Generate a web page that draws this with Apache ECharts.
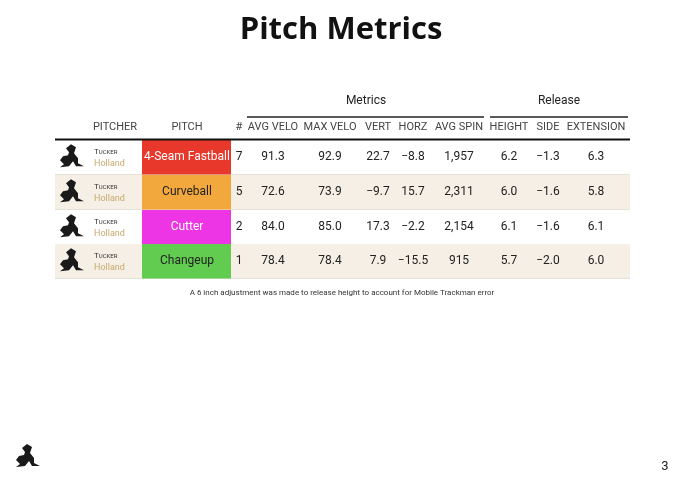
<!DOCTYPE html>
<html>
<head>
<meta charset="utf-8">
<script src="https://cdn.jsdelivr.net/npm/echarts@6/dist/echarts.min.js"></script>
<style>html,body{margin:0;background:#fff}#main{width:680px;height:480px}</style>
</head>
<body>
<div id="main"></div>
<script>
var headers = ['PITCHER', 'PITCH', '#', 'AVG VELO', 'MAX VELO', 'VERT', 'HORZ', 'AVG SPIN', 'HEIGHT', 'SIDE', 'EXTENSION'];
var pitches = ['4-Seam Fastball', 'Curveball', 'Cutter', 'Changeup'];
var counts = [7, 5, 2, 1];
var avgVelo = ['91.3', '72.6', '84.0', '78.4'];
var maxVelo = ['92.9', '73.9', '85.0', '78.4'];
var vert = ['22.7', '\u22129.7', '17.3', '7.9'];
var horz = ['\u22128.8', '15.7', '\u22122.2', '\u221215.5'];
var avgSpin = ['1,957', '2,311', '2,154', '915'];
var height = ['6.2', '6.0', '6.1', '5.7'];
var side = ['\u22121.3', '\u22121.6', '\u22121.6', '\u22122.0'];
var extension = ['6.3', '5.8', '6.1', '6.0'];
var pitchColors = ['#e8382c', '#f2a83c', '#ee35e6', '#62cc50'];
var pitchText = ['#fff', '#222', '#fff', '#222'];

var colX = [115, 187, 239, 273, 330, 378, 413, 459, 509, 548, 596];
var rowTop = [140, 175, 210, 244];
var rowH = 34.5;
var els = [];
var font = 'Roboto, sans-serif';

els.push({type: 'text', x: 341, y: 30, style: {text: 'Pitch Metrics', font: 'bold 31px "Open Sans", sans-serif', fill: '#111', align: 'center', verticalAlign: 'middle'}});
els.push({type: 'text', x: 366, y: 101, style: {text: 'Metrics', font: '12px ' + font, fill: '#222', align: 'center', verticalAlign: 'middle'}});
els.push({type: 'text', x: 559, y: 101, style: {text: 'Release', font: '12px ' + font, fill: '#222', align: 'center', verticalAlign: 'middle'}});
els.push({type: 'line', shape: {x1: 247, y1: 117, x2: 484, y2: 117}, style: {stroke: '#222', lineWidth: 1.5}});
els.push({type: 'line', shape: {x1: 490, y1: 117, x2: 628, y2: 117}, style: {stroke: '#222', lineWidth: 1.5}});
headers.forEach(function (h, i) {
  els.push({type: 'text', x: colX[i], y: 127, style: {text: h, font: '11px ' + font, fill: '#444', align: 'center', verticalAlign: 'middle'}});
});

function logo(x, y) {
  var pts = [[6, -9], [11, -13], [16, -10], [14, -4], [18, 1], [18, 6], [24, 9], [16, 9], [13, 4], [9, 9], [0, 10], [4, 7], [0, 3], [3, -1], [8, -2], [9, -5]];
  els.push({type: 'polygon', shape: {points: pts.map(function (p) { return [x + p[0], y + p[1]]; })}, style: {fill: '#1a1a1a'}});
}

pitches.forEach(function (p, r) {
  var top = rowTop[r], cy = top + rowH / 2;
  if (r % 2 === 1) els.push({type: 'rect', shape: {x: 55, y: top, width: 575, height: rowH}, style: {fill: '#f5efe5'}});
  els.push({type: 'line', shape: {x1: 55, y1: top + rowH, x2: 630, y2: top + rowH}, style: {stroke: '#e4e0da', lineWidth: 1}});
  logo(60, cy);
  els.push({type: 'text', x: 94, y: cy - 5, style: {text: '{a|T}{b|UCKER}', rich: {a: {fontSize: 8, fontFamily: 'Roboto', fill: '#333'}, b: {fontSize: 6, fontFamily: 'Roboto', fill: '#333'}}, verticalAlign: 'middle'}});
  els.push({type: 'text', x: 94, y: cy + 6, style: {text: 'Holland', font: '9px ' + font, fill: '#c8aa6e', verticalAlign: 'middle'}});
  els.push({type: 'rect', shape: {x: 142, y: top, width: 89, height: rowH}, style: {fill: pitchColors[r]}});
  els.push({type: 'text', x: 187, y: cy, style: {text: p, font: '12px ' + font, fill: pitchText[r], align: 'center', verticalAlign: 'middle'}});
  var vals = [counts[r], avgVelo[r], maxVelo[r], vert[r], horz[r], avgSpin[r], height[r], side[r], extension[r]];
  vals.forEach(function (v, j) {
    els.push({type: 'text', x: colX[j + 2], y: cy, style: {text: String(v), font: '12px ' + font, fill: '#222', align: 'center', verticalAlign: 'middle'}});
  });
});
els.push({type: 'line', shape: {x1: 55, y1: 139.5, x2: 630, y2: 139.5}, style: {stroke: '#111', lineWidth: 2}});

els.push({type: 'text', x: 342, y: 293, style: {text: 'A 6 inch adjustment was made to release height to account for Mobile Trackman error', font: '8px ' + font, fill: '#333', align: 'center', verticalAlign: 'middle'}});
logo(16, 457);
els.push({type: 'text', x: 665, y: 467, style: {text: '3', font: '13px ' + font, fill: '#222', align: 'center', verticalAlign: 'middle'}});

var chart = echarts.init(document.getElementById('main'));
chart.setOption({backgroundColor: '#fff', graphic: {elements: els}});
</script>
</body>
</html>
